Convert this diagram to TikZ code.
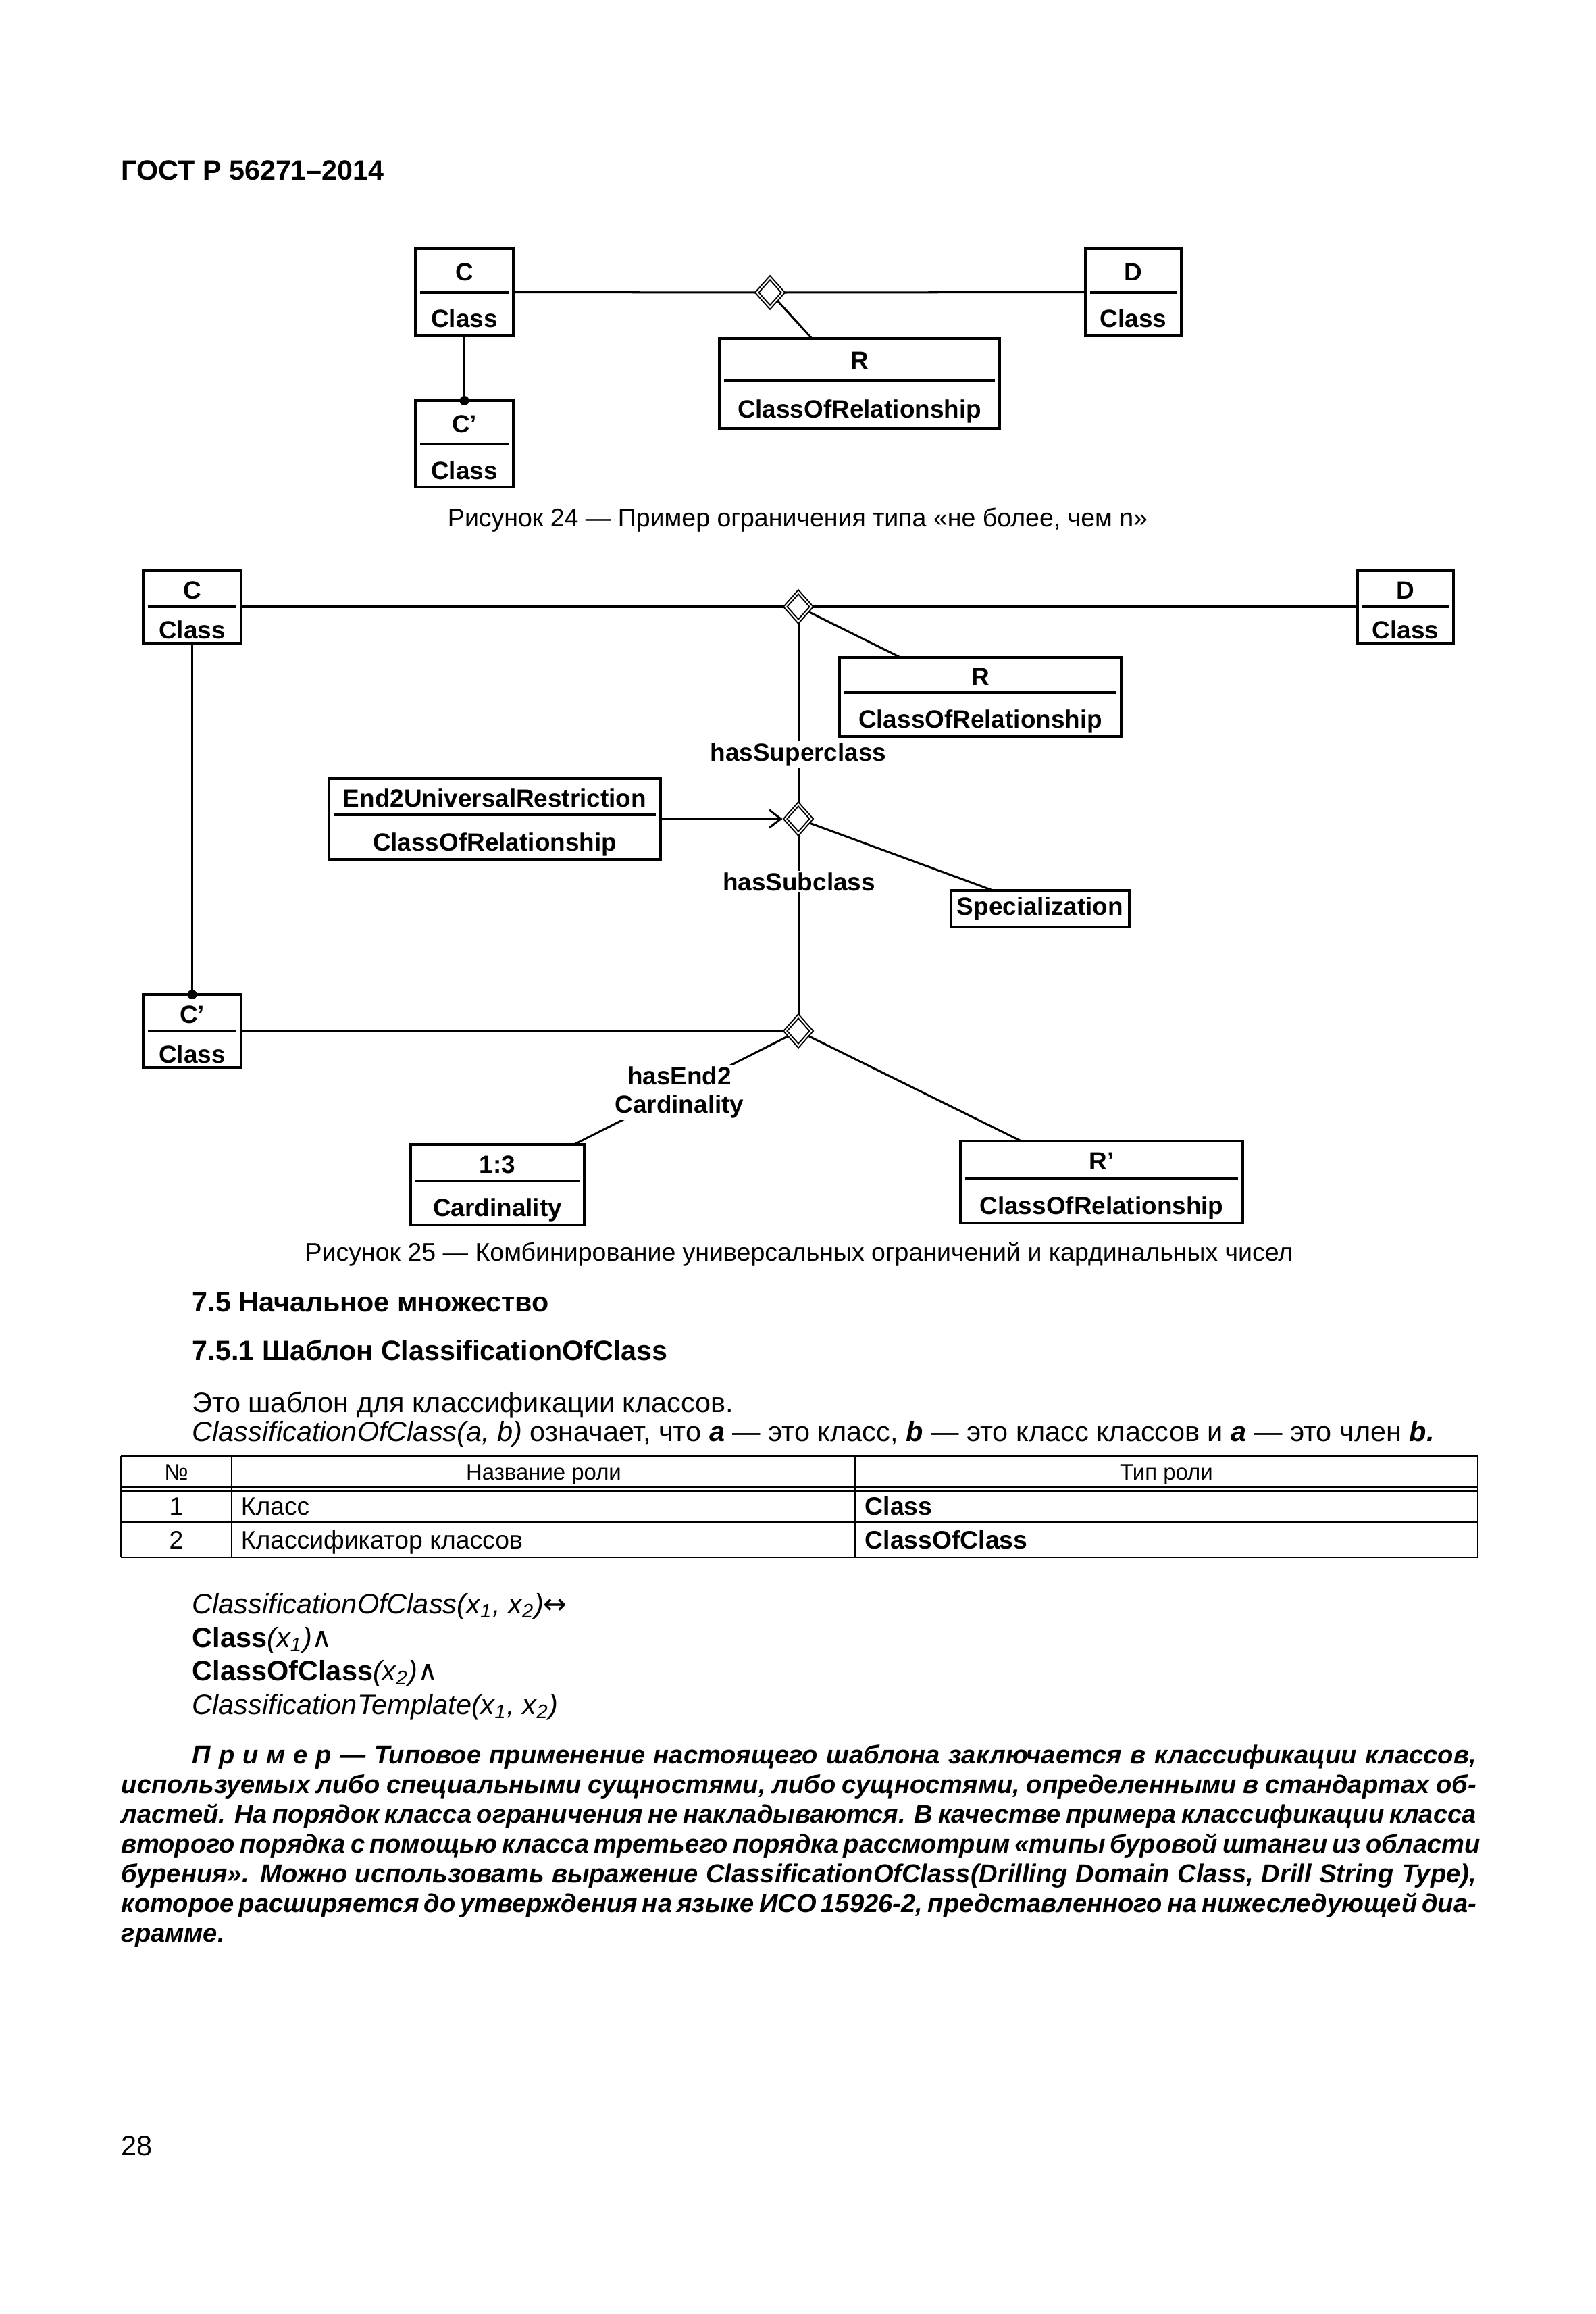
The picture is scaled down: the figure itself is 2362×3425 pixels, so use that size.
\documentclass[tikz,border=0pt]{standalone}
\usepackage{fontspec}
\setmainfont{Liberation Sans}
\newfontfamily\symfont{DejaVu Sans}
\usetikzlibrary{shapes.geometric,arrows.meta,calc}
\pgfdeclarelayer{bg}
\pgfsetlayers{bg,main}
\newcommand\fdiag{\fontsize{9.3}{10.6}\selectfont\bfseries}
\newcommand\fbody{\fontsize{10.45}{12.6}\selectfont}
\newcommand\fhead{\fontsize{10.4}{12.4}\selectfont\bfseries}
\newcommand\fcap{\fontsize{9.45}{11}\selectfont}
\newcommand\ftab{\fontsize{9.4}{11}\selectfont}
\newcommand\ftabh{\fontsize{8.3}{10}\selectfont}
\newcommand\fnote{\fontsize{9.6}{11.1}\selectfont\bfseries\itshape}
\newcommand\umlbox[8]{%
  \node[umlframe, minimum width={(#4-#2)*0.252pt}, minimum height={(#5-#3)*0.252pt}] (#1) at ({(#2+#4)/2},{(#3+#5)/2}) {};
  \draw[sepline] ({#2+7},#6) -- ({#4-7},#6);
  \node[dtext] (#1-t) at ({(#2+#4)/2},{(#3+#6)/2+15}) {#7};
  \node[dtext] (#1-b) at ({(#2+#4)/2},{(#6+#5)/2+20}) {#8};
}
\begin{document}
\begin{tikzpicture}[x=0.252pt,y=-0.252pt,
  umlframe/.style={draw, line width=1pt, inner sep=0pt, outer sep=0pt},
  sepline/.style={line width=1pt},
  dtext/.style={font=\fdiag, inner sep=0pt, anchor=base},
  conn/.style={line width=0.76pt},
  dia/.style={diamond, draw, double=white, line width=0.5pt, double distance=0.5pt, fill=white,
    inner sep=0pt, outer sep=0pt, minimum width=9.73pt, minimum height=10.99pt},
  lab/.style={font=\fdiag, fill=white, inner sep=0.5pt},
  txt/.style={inner sep=0pt, anchor=base west},
  tline/.style={line width=0.7pt}]
\useasboundingbox (0,0) rectangle (2362,3425);
\begin{pgfonlayer}{bg}
\fill[white] (0,0) rectangle (2362,3425);
\end{pgfonlayer}

% header
\node[txt, font=\fhead] (gost) at (179,267) {ГОСТ Р 56271–2014};

% ---------- Figure 24 ----------
\umlbox{C24}{615}{368}{760}{497}{433}{C}{Class}
\umlbox{D24}{1607}{368}{1749}{497}{433}{D}{Class}
\umlbox{R24}{1065}{501}{1480}{634}{563}{R}{ClassOfRelationship}
\umlbox{Cp24}{615}{593}{760}{721}{657}{C’}{Class}
\node[dia] (d24) at (1140,433) {};
\begin{pgfonlayer}{bg}
\draw[conn] (C24.east) -- (d24.west);
\draw[conn] (d24.east) -- (D24.west);
\draw[conn] (d24.center) -- ($(R24.north west)+(137,0)$);
\draw[conn] (C24.south) -- (Cp24.north);
\end{pgfonlayer}
\fill (Cp24.north) circle[radius=7];
\node[anchor=base, inner sep=0pt, font=\fcap] (cap24) at (1181,779) {Рисунок 24 — Пример ограничения типа «не более, чем n»};

% ---------- Figure 25 ----------
\umlbox{C25}{212}{844}{357}{952}{898}{C}{Class}
\umlbox{D25}{2010}{844}{2152}{952}{898}{D}{Class}
\umlbox{R25}{1243}{973}{1660}{1090}{1025}{R}{ClassOfRelationship}
\umlbox{E2}{487}{1152}{978}{1272}{1206}{End2UniversalRestriction}{ClassOfRelationship}
\node[umlframe, minimum width={264*0.252pt}, minimum height={54*0.252pt}] (Spec) at (1540,1345) {};
\node[dtext] (Spec-t) at (1540,1354) {Specialization};
\umlbox{Cp25}{212}{1472}{357}{1580}{1526}{C’}{Class}
\umlbox{b13}{608}{1694}{865}{1813}{1748}{1:3}{Cardinality}
\umlbox{Rp}{1422}{1689}{1840}{1810}{1744}{R’}{ClassOfRelationship}
\node[dia] (d1) at (1182,898) {};
\node[dia] (d2) at (1182,1212) {};
\node[dia] (d3) at (1182,1526) {};
\begin{pgfonlayer}{bg}
\draw[conn] (C25.east) -- (d1.west);
\draw[conn] (d1.east) -- (D25.west);
\draw[conn] (d1.center) -- ($(R25.north west)+(90,0)$);
\draw[conn] (d1.south) -- (d2.north);
\draw[conn, -{Straight Barb[length=4.3pt, width=6.6pt]}, shorten >=1.06pt] (E2.east) -- (d2.west);
\draw[conn] (d2.center) -- ($(Spec.north west)+(62,0)$);
\draw[conn] (d2.south) -- (d3.north);
\draw[conn] (C25.south) -- (Cp25.north);
\draw[conn] (Cp25.east) -- (d3.west);
\draw[conn] (d3.center) -- ($(b13.north west)+(242,0)$);
\draw[conn] (d3.center) -- ($(Rp.north west)+(90,0)$);
\end{pgfonlayer}
\fill (Cp25.north) circle[radius=7];
\node[lab, anchor=base] (lsup) at (1182,1126) {hasSuperclass};
\node[lab, anchor=base] (lsub) at (1183,1318) {hasSubclass};
\node[lab, align=center] (lend) at (1006,1617) {hasEnd2\\Cardinality};
\node[anchor=base, inner sep=0pt, font=\fcap] (cap25) at (1183,1866) {Рисунок 25 — Комбинирование универсальных ограничений и кардинальных чисел};

% ---------- Text ----------
\node[txt, font=\fhead] (h75) at (284,1941) {7.5 Начальное множество};
\node[txt, font=\fhead] (h751) at (284,2013) {7.5.1 Шаблон ClassificationOfClass};
\node[txt, font=\fbody] (p1) at (284,2090) {Это шаблон для классификации классов.};
\node[txt, font=\fbody] (p2) at (284,2133) {\textit{ClassificationOfClass(a, b)} означает, что \textbf{\textit{a}} — это класс, \textbf{\textit{b}} — это класс классов и \textbf{\textit{a}} — это член \textbf{\textit{b.}}};

% table
\draw[tline] (179,2155) -- (2188,2155);
\draw[tline] (179,2201) -- (2188,2201);
\draw[tline] (179,2207) -- (2188,2207);
\draw[tline] (179,2253) -- (2188,2253);
\draw[tline] (179,2305) -- (2188,2305);
\draw[tline] (179,2155) -- (179,2305);
\draw[tline] (343,2155) -- (343,2305);
\draw[tline] (1266,2155) -- (1266,2305);
\draw[tline] (2188,2155) -- (2188,2305);
\node[anchor=base, inner sep=0pt, font=\ftabh] (th1) at (261,2190) {№};
\node[anchor=base, inner sep=0pt, font=\ftabh] (th2) at (805,2190) {Название роли};
\node[anchor=base, inner sep=0pt, font=\ftabh] (th3) at (1727,2190) {Тип роли};
\node[anchor=base, inner sep=0pt, font=\ftab] (r1a) at (261,2242) {1};
\node[txt, font=\ftab] (r1b) at (356,2242) {Класс};
\node[txt, font=\ftab\bfseries] (r1c) at (1280,2242) {Class};
\node[anchor=base, inner sep=0pt, font=\ftab] (r2a) at (261,2292) {2};
\node[txt, font=\ftab] (r2b) at (356,2292) {Классификатор классов};
\node[txt, font=\ftab\bfseries] (r2c) at (1280,2292) {ClassOfClass};

% formulas
\node[txt, font=\fbody] (f1) at (284,2388) {\textit{ClassificationOfClass(x\textsubscript{1}, x\textsubscript{2})}{\symfont ↔}};
\node[txt, font=\fbody] (f2) at (284,2438) {\textbf{Class}\textit{(x\textsubscript{1})}{\symfont ∧}};
\node[txt, font=\fbody] (f3) at (284,2487) {\textbf{ClassOfClass}\textit{(x\textsubscript{2})}{\symfont ∧}};
\node[txt, font=\fbody] (f4) at (284,2537) {\textit{ClassificationTemplate(x\textsubscript{1}, x\textsubscript{2})}};

% note
\node[txt, font=\fnote] (n1) at (179,2610) {\hbox to 505.5pt{\kern26.5pt П\kern3pt р\kern3pt и\kern3pt м\kern3pt е\kern3pt р — Типовое применение настоящего шаблона заключается в классификации классов,}};
\node[txt, font=\fnote] (n2) at (179,2654) {\hbox to 505.5pt{используемых либо специальными сущностями, либо сущностями, определенными в стандартах об-}};
\node[txt, font=\fnote] (n3) at (179,2698) {\hbox to 505.5pt{ластей. На порядок класса ограничения не накладываются. В качестве примера классификации класса}};
\node[txt, font=\fnote] (n4) at (179,2742) {\hbox to 505.5pt{второго порядка с помощью класса третьего порядка рассмотрим «типы буровой штанги из области}};
\node[txt, font=\fnote] (n5) at (179,2786) {\hbox to 505.5pt{бурения». Можно использовать выражение ClassificationOfClass(Drilling Domain Class, Drill String Type),}};
\node[txt, font=\fnote] (n6) at (179,2830) {\hbox to 505.5pt{которое расширяется до утверждения на языке ИСО 15926-2, представленного на нижеследующей диа-}};
\node[txt, font=\fnote] (n7) at (179,2874) {грамме.};

\node[txt, font=\fbody] (pg) at (179,3190) {28};
\end{tikzpicture}
\end{document}
